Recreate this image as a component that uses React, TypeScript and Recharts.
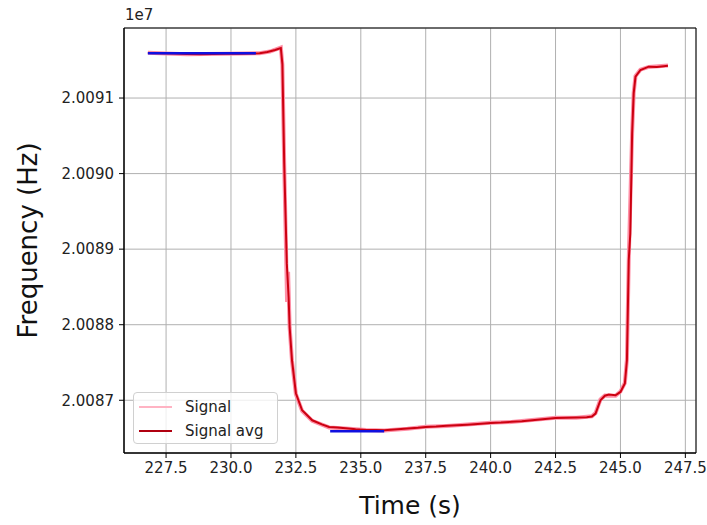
import { LineChart, Line, XAxis, YAxis, CartesianGrid, ReferenceArea } from 'recharts';

const timeAvg = [
  226.8, 227.3, 227.8, 228.3, 228.8, 229.3, 229.8, 230.3, 230.8, 231.1, 231.4, 231.7, 231.92, 231.98,
  232.05, 232.15, 232.22, 232.26, 232.35, 232.5, 232.74, 233.13, 233.5, 233.78, 234.1, 234.42, 234.8,
  235.2, 235.6, 235.9, 236.3, 236.8, 237.2, 237.5, 237.9, 238.3, 238.7, 239.1, 239.5, 240.0, 240.4,
  240.8, 241.2, 241.6, 242.0, 242.5, 242.9, 243.3, 243.7, 243.9, 244.04, 244.23, 244.4, 244.55, 244.81,
  245.0, 245.17, 245.25, 245.32, 245.38, 245.45, 245.51, 245.58, 245.77, 246.09, 246.4, 246.83,
];
const freqAvg = [
  20091596, 20091594, 20091590, 20091582, 20091580, 20091583, 20091585, 20091587, 20091589, 20091592,
  20091610, 20091635, 20091662, 20091450, 20090139, 20088815, 20088364, 20087967, 20087530, 20087093,
  20086868, 20086735, 20086680, 20086646, 20086640, 20086629, 20086615, 20086608, 20086605, 20086603,
  20086612, 20086625, 20086635, 20086646, 20086652, 20086662, 20086668, 20086675, 20086685, 20086699,
  20086705, 20086715, 20086722, 20086735, 20086748, 20086766, 20086770, 20086773, 20086776, 20086785,
  20086824, 20087000, 20087060, 20087075, 20087066, 20087110, 20087221, 20087530, 20088854, 20089208,
  20090532, 20091062, 20091282, 20091371, 20091415, 20091410, 20091428,
];

const timeSignal = [
  226.8, 227.5, 228.3, 229.0, 229.8, 230.5, 231.1, 231.5, 231.92, 231.98, 232.05, 232.12, 232.16,
  232.2, 232.26, 232.35, 232.5, 232.74, 233.13, 233.78, 234.42, 235.2, 235.9, 236.8, 237.5, 238.3,
  239.1, 240.0, 240.8, 241.6, 242.5, 243.3, 243.9, 244.04, 244.23, 244.4, 244.81, 245.0, 245.17,
  245.25, 245.32, 245.45, 245.51, 245.58, 245.77, 246.09, 246.83,
];
const freqSignal = [
  20091598, 20091590, 20091578, 20091584, 20091586, 20091588, 20091594, 20091615, 20091668, 20091440,
  20090120, 20089000, 20088300, 20088700, 20087960, 20087520, 20087080, 20086860, 20086728, 20086640,
  20086625, 20086606, 20086600, 20086622, 20086648, 20086660, 20086678, 20086702, 20086712, 20086738,
  20086768, 20086770, 20086788, 20086830, 20087010, 20087062, 20087060, 20087115, 20087230, 20087540,
  20088870, 20090540, 20091070, 20091290, 20091375, 20091412, 20091430,
];

const timeFitHigh = [226.8, 230.96];
const freqFitHigh = [20091592, 20091592];
const timeFitLow = [233.82, 235.9];
const freqFitLow = [20086589, 20086589];

const xTicks = [227.5, 230.0, 232.5, 235.0, 237.5, 240.0, 242.5, 245.0, 247.5];
const yTicks = [20087000, 20088000, 20089000, 20090000, 20091000];

const legendItems = [
  { name: 'Signal', color: '#ffb3c3' },
  { name: 'Signal avg', color: '#b00010' },
];

const X_DOMAIN = [225.88, 247.91];
const Y_DOMAIN = [20086302, 20091927];

const zip = (t: number[], f: number[]) => t.map((time, i) => ({ time, freq: f[i] }));

const avgData = zip(timeAvg, freqAvg);
const signalData = zip(timeSignal, freqSignal);
const fitHighData = zip(timeFitHigh, freqFitHigh);
const fitLowData = zip(timeFitLow, freqFitLow);

const tickStyle = { fontSize: 15, fill: '#222', fontFamily: 'DejaVu Sans' };

export default function App() {
  return (
    <div style={{ position: 'relative', width: 707, height: 525, background: '#fff' }}>
      <style>{'html, body { margin: 0; padding: 0; overflow: hidden; } .recharts-surface { overflow: visible; }'}</style>
      <LineChart width={707} height={525} margin={{ top: 28, right: 11, bottom: 0, left: 0 }}>
        <CartesianGrid stroke="#b0b0b0" strokeWidth={1} />
        <XAxis
          dataKey="time"
          type="number"
          domain={X_DOMAIN}
          ticks={xTicks}
          tickFormatter={(v: number) => v.toFixed(1)}
          allowDataOverflow
          height={72}
          tickSize={5}
          tickMargin={4}
          tick={tickStyle}
          stroke="#000"
          label={{ value: 'Time (s)', position: 'insideBottom', offset: 11, fontSize: 25, fill: '#111', fontFamily: 'DejaVu Sans' }}
        />
        <YAxis
          dataKey="freq"
          type="number"
          domain={Y_DOMAIN}
          ticks={yTicks}
          tickFormatter={(v: number) => (v / 1e7).toFixed(4)}
          allowDataOverflow
          width={124}
          tickSize={5}
          tickMargin={5}
          tick={tickStyle}
          stroke="#000"
          label={{ value: 'Frequency (Hz)', angle: -90, position: 'insideLeft', offset: 28, fontSize: 26, fill: '#111', fontFamily: 'DejaVu Sans', style: { textAnchor: 'middle' } }}
        />
        <ReferenceArea x1={X_DOMAIN[0]} x2={X_DOMAIN[1]} y1={Y_DOMAIN[0]} y2={Y_DOMAIN[1]} fill="none" stroke="#000" strokeWidth={1} strokeOpacity={1} />
        <Line data={signalData} dataKey="freq" name="Signal" stroke="#ff8fa6" strokeWidth={4} dot={false} isAnimationActive={false} />
        <Line data={avgData} dataKey="freq" name="Signal avg" stroke="#cc0010" strokeWidth={2} dot={false} isAnimationActive={false} />
        <Line data={fitHighData} dataKey="freq" name="fit1" stroke="#1010e0" strokeWidth={2.5} dot={false} isAnimationActive={false} />
        <Line data={fitLowData} dataKey="freq" name="fit2" stroke="#1010e0" strokeWidth={2.5} dot={false} isAnimationActive={false} />
      </LineChart>
      <div style={{ position: 'absolute', left: 125, top: 6, fontFamily: 'DejaVu Sans', fontSize: 15, color: '#222' }}>1e7</div>
      <div
        style={{
          position: 'absolute',
          left: 133,
          top: 392,
          width: 145,
          height: 52,
          border: '1px solid #d0d0d0',
          borderRadius: 4,
          background: 'rgba(255,255,255,0.8)',
          fontFamily: 'DejaVu Sans',
          fontSize: 15,
          color: '#222',
          boxSizing: 'border-box',
          paddingTop: 2,
        }}
      >
        {legendItems.map((item) => (
          <div key={item.name} style={{ display: 'flex', alignItems: 'center', height: 24 }}>
            <div style={{ width: 33, height: 2, background: item.color, marginLeft: 5, marginRight: 13 }} />
            <span>{item.name}</span>
          </div>
        ))}
      </div>
    </div>
  );
}
